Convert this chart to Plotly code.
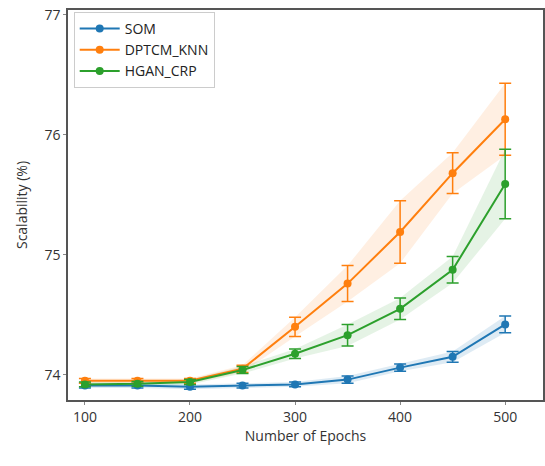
import plotly.graph_objects as go

epochs = [100, 150, 200, 250, 300, 350, 400, 450, 500]

som = [73.91, 73.91, 73.90, 73.91, 73.92, 73.96, 74.06, 74.15, 74.42]
som_err = [0.02, 0.02, 0.02, 0.02, 0.02, 0.03, 0.03, 0.045, 0.07]

dptcm = [73.95, 73.95, 73.95, 74.05, 74.40, 74.76, 75.19, 75.68, 76.13]
dptcm_err = [0.02, 0.02, 0.02, 0.03, 0.08, 0.15, 0.26, 0.17, 0.30]

hgan = [73.92, 73.925, 73.94, 74.04, 74.175, 74.33, 74.55, 74.875, 75.59]
hgan_err = [0.02, 0.02, 0.02, 0.03, 0.04, 0.09, 0.09, 0.11, 0.29]

names = ["SOM", "DPTCM_KNN", "HGAN_CRP"]
colors = ["#1f77b4", "#ff7f0e", "#2ca02c"]
fills = ["rgba(31,119,180,0.15)", "rgba(255,127,14,0.12)", "rgba(44,160,44,0.12)"]
series = [(som, som_err), (dptcm, dptcm_err), (hgan, hgan_err)]

fig = go.Figure()

# shaded bands
for (vals, errs), fc in zip(series, fills):
    upper = [v + e for v, e in zip(vals, errs)]
    lower = [v - e for v, e in zip(vals, errs)]
    fig.add_trace(go.Scatter(x=epochs, y=upper, mode="lines", line=dict(width=0),
                             showlegend=False, hoverinfo="skip"))
    fig.add_trace(go.Scatter(x=epochs, y=lower, mode="lines", line=dict(width=0),
                             fill="tonexty", fillcolor=fc, showlegend=False, hoverinfo="skip"))

for (vals, errs), name, c in zip(series, names, colors):
    fig.add_trace(go.Scatter(
        x=epochs, y=vals, name=name, mode="lines+markers",
        line=dict(color=c, width=2),
        marker=dict(color=c, size=8, symbol="circle"),
        error_y=dict(type="data", array=errs, color=c, thickness=1.5, width=6),
    ))

axis_font = dict(family="Open Sans, DejaVu Sans, sans-serif", size=14, color="#333")

fig.update_layout(
    width=545, height=466,
    margin=dict(l=68, r=0, t=10, b=66),
    paper_bgcolor="white", plot_bgcolor="white",
    font=dict(family="Open Sans, DejaVu Sans, sans-serif", size=14, color="#333"),
    showlegend=True,
    legend=dict(x=0.012, y=0.995, xanchor="left", yanchor="top",
                traceorder="normal",
                bgcolor="white", bordercolor="#cccccc", borderwidth=1,
                font=dict(size=14, color="#222"), tracegroupgap=0,
                itemwidth=40),
    hovermode=False,
)

fig.update_xaxes(
    range=[83.9, 536], tickvals=[100, 200, 300, 400, 500],
    showgrid=False, zeroline=False,
    showline=True, linecolor="#555", linewidth=1.5, mirror=True,
    ticks="outside", ticklen=3, tickcolor="#888",
    tickfont=axis_font,
    title=dict(text="Number of Epochs", font=axis_font, standoff=6),
)
fig.update_yaxes(
    range=[73.79, 77.04], tickvals=[74, 75, 76, 77],
    showgrid=False, zeroline=False,
    showline=True, linecolor="#555", linewidth=1.5, mirror=True,
    ticks="outside", ticklen=3, tickcolor="#888",
    tickfont=axis_font,
    title=dict(text="Scalability (%)", font=axis_font, standoff=14),
)

fig.write_html("out.html")
